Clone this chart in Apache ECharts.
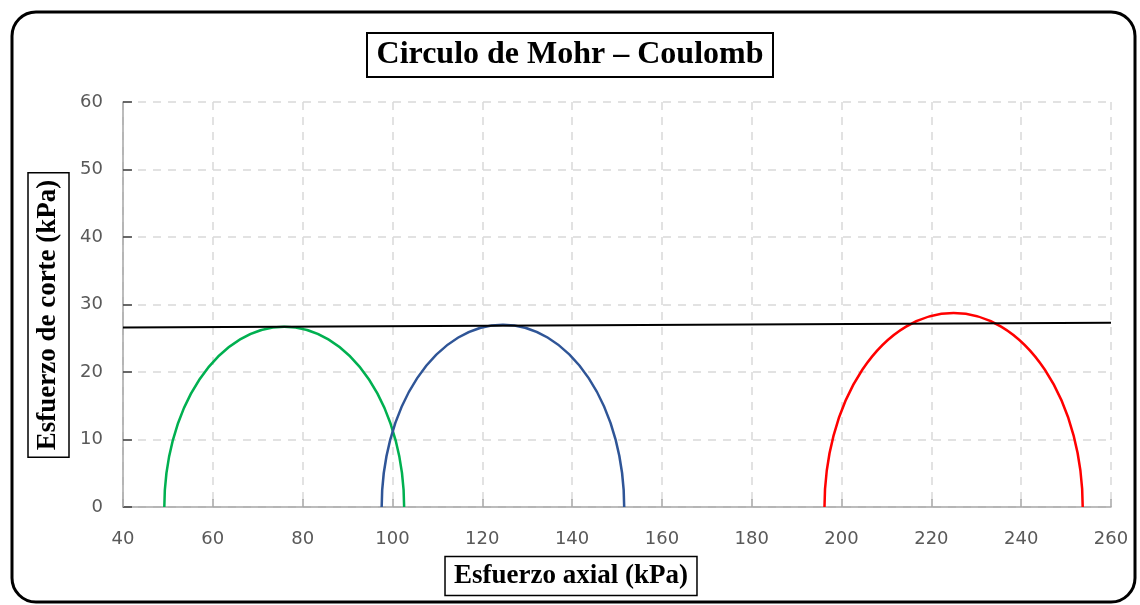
<!DOCTYPE html>
<html>
<head>
<meta charset="utf-8">
<title>Circulo de Mohr – Coulomb</title>
<script src="https://cdn.jsdelivr.net/npm/echarts@6/dist/echarts.min.js"></script>
<style>
  html, body { margin: 0; padding: 0; background: #fff; }
  #chart { width: 1140px; height: 605px; }
</style>
</head>
<body>
<div id="chart"></div>
<script>
// Minor and major principal stresses of each test (kPa)
const sigma3 = [49.2, 97.6, 196.2];
const sigma1 = [102.6, 151.6, 253.7];
const circleColors = ['#00b050', '#2f5597', '#ff0000'];
const circleNames = ['Ensayo 1', 'Ensayo 2', 'Ensayo 3'];

// Failure envelope end points (normal stress, shear stress) in kPa
const envelopeX = [40, 260];
const envelopeY = [26.6, 27.3];

// Axis ranges and tick steps
const xRange = [40, 260];
const xStep = 20;
const yRange = [0, 60];
const yStep = 10;

const chart = echarts.init(document.getElementById('chart'), null, { renderer: 'canvas' });

// Upper half of a Mohr circle, drawn as an SVG arc between (sigma3, 0) and (sigma1, 0)
function mohrArc(color) {
  return function (params, api) {
    const s3 = api.value(0);
    const s1 = api.value(1);
    const radius = (s1 - s3) / 2;
    const a = api.coord([s3, 0]);
    const b = api.coord([s1, 0]);
    const rx = (b[0] - a[0]) / 2;
    const ry = api.size([0, radius])[1];
    return {
      type: 'path',
      shape: {
        pathData: 'M ' + a[0] + ' ' + a[1] + ' A ' + rx + ' ' + ry + ' 0 0 1 ' + b[0] + ' ' + b[1]
      },
      style: { fill: 'none', stroke: color, lineWidth: 2.5 }
    };
  };
}

const circleSeries = sigma3.map(function (s3, i) {
  return {
    name: circleNames[i],
    type: 'custom',
    renderItem: mohrArc(circleColors[i]),
    data: [[s3, sigma1[i]]],
    encode: { x: [0, 1], y: [] },
    silent: true,
    z: 3
  };
});

const labelStyle = { color: '#595959', fontFamily: 'DejaVu Sans', fontSize: 18 };
const serifBold = 'bold 27px "Liberation Serif", "Times New Roman", serif';

chart.setOption({
  animation: false,
  backgroundColor: '#ffffff',
  title: {
    text: 'Circulo de Mohr – Coulomb',
    left: 'center',
    top: 33,
    padding: [6, 10, 6, 10],
    borderColor: '#000',
    borderWidth: 2,
    textStyle: {
      fontFamily: '"Liberation Serif", "Times New Roman", serif',
      fontWeight: 'bold',
      fontSize: 32,
      color: '#000'
    }
  },
  grid: { left: 123, right: 29, top: 102, bottom: 98, containLabel: false },
  xAxis: {
    type: 'value',
    min: xRange[0],
    max: xRange[1],
    interval: xStep,
    axisLine: { show: true, lineStyle: { color: '#a6a6a6', width: 1.5 } },
    axisTick: { show: true, inside: true, length: 8, lineStyle: { color: '#a6a6a6', width: 1.5 } },
    axisLabel: Object.assign({ margin: 23 }, labelStyle),
    splitLine: { show: true, lineStyle: { color: '#d9d9d9', type: [8, 7], width: 1.5 } }
  },
  yAxis: {
    type: 'value',
    min: yRange[0],
    max: yRange[1],
    interval: yStep,
    axisLine: { show: true, lineStyle: { color: '#a6a6a6', width: 1.5 } },
    axisTick: { show: true, inside: true, length: 9, lineStyle: { color: '#404040', width: 1.5 } },
    axisLabel: Object.assign({ margin: 20 }, labelStyle),
    splitLine: { show: true, lineStyle: { color: '#d9d9d9', type: [8, 7], width: 1.5 } }
  },
  series: circleSeries.concat([{
    name: 'Envolvente de falla',
    type: 'line',
    data: envelopeX.map(function (x, i) { return [x, envelopeY[i]]; }),
    showSymbol: false,
    symbol: 'none',
    lineStyle: { color: '#000', width: 2 },
    silent: true,
    z: 4
  }]),
  graphic: [
    {
      type: 'rect',
      shape: { x: 12, y: 12, width: 1123, height: 590, r: 24 },
      style: { fill: 'none', stroke: '#000', lineWidth: 3 },
      silent: true,
      z: 10
    },
    {
      type: 'text',
      x: 48.5,
      y: 315,
      rotation: Math.PI / 2,
      style: {
        text: 'Esfuerzo de corte (kPa)',
        font: serifBold,
        fill: '#000',
        align: 'center',
        verticalAlign: 'middle',
        borderColor: '#000',
        borderWidth: 1.5,
        padding: [7, 7, 7, 7]
      },
      silent: true,
      z: 10
    },
    {
      type: 'text',
      x: 571,
      y: 576,
      style: {
        text: 'Esfuerzo axial (kPa)',
        font: serifBold,
        fill: '#000',
        align: 'center',
        verticalAlign: 'middle',
        borderColor: '#000',
        borderWidth: 1.5,
        padding: [6, 9, 6, 9]
      },
      silent: true,
      z: 10
    }
  ]
});
</script>
</body>
</html>
